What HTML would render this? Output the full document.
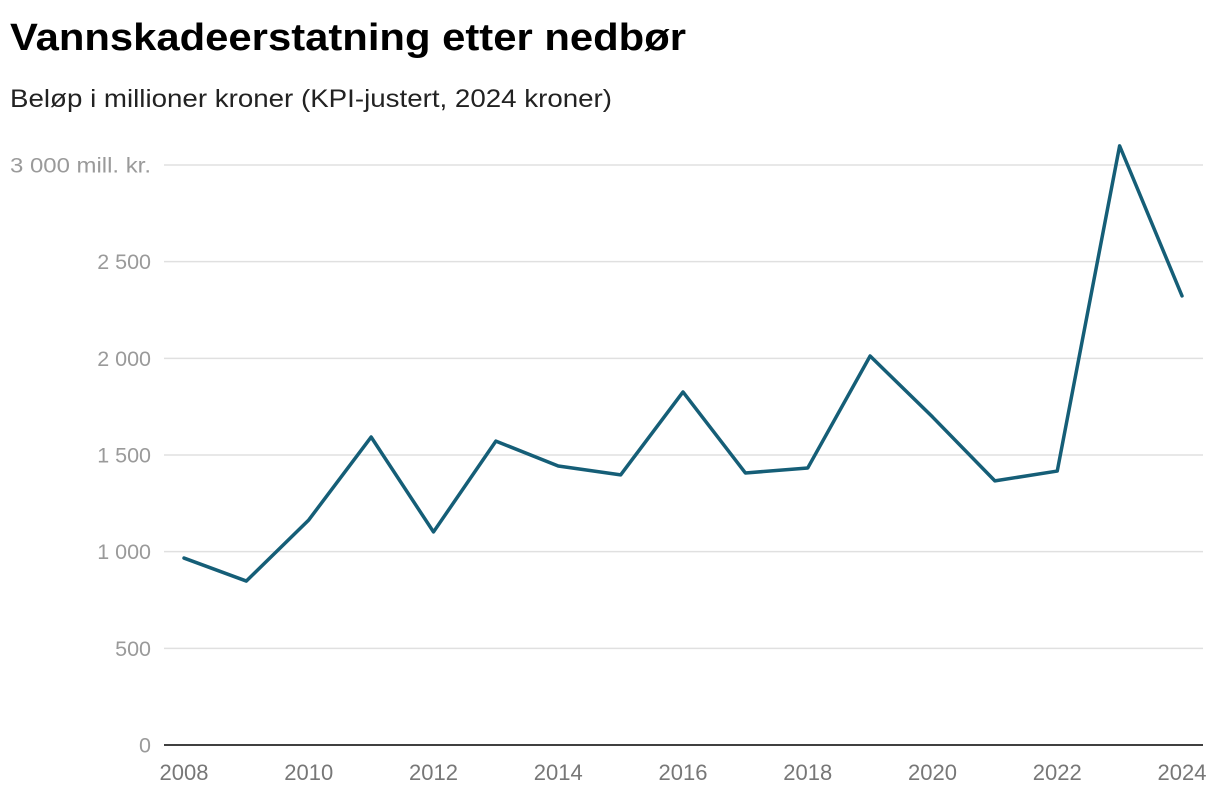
<!DOCTYPE html>
<html><head><meta charset="utf-8"><style>
body{margin:0;background:#fff;font-family:"Liberation Sans",sans-serif;}
svg text{font-family:"Liberation Sans",sans-serif;}
</style></head><body>
<svg id="chart" width="1220" height="796">
<text x="10" y="50" font-size="38" font-weight="bold" fill="#000" textLength="676" lengthAdjust="spacingAndGlyphs">Vannskadeerstatning etter nedbør</text>
<text x="10" y="107" font-size="25" fill="#222" textLength="602" lengthAdjust="spacingAndGlyphs">Beløp i millioner kroner (KPI-justert, 2024 kroner)</text>
<g id="grid"></g><g id="xaxis"></g><g id="series"></g>
</svg>
<script>
const years=[2008,2009,2010,2011,2012,2013,2014,2015,2016,2017,2018,2019,2020,2021,2022,2023,2024];
const values=[967,848,1164,1593,1102,1572,1443,1397,1826,1407,1433,2012,1697,1366,1417,3099,2323];
const yTicks=[0,500,1000,1500,2000,2500,3000];
const yTickLabels=["0","500","1 000","1 500","2 000","2 500","3 000 mill. kr."];
const xTicks=[2008,2010,2012,2014,2016,2018,2020,2022,2024];
const NS="http://www.w3.org/2000/svg";
const x=v=>184+(v-2008)*(1182-184)/16;
const y=v=>745-v*(580/3000);
const grid=document.getElementById('grid');
yTicks.forEach((t,i)=>{
  const l=document.createElementNS(NS,'line');
  l.setAttribute('x1',164);l.setAttribute('x2',1203);l.setAttribute('y1',y(t));l.setAttribute('y2',y(t));
  l.setAttribute('stroke',t===0?'#000':'#e0e0e0');l.setAttribute('stroke-width',1.5);
  
  
  grid.appendChild(l);
  const tx=document.createElementNS(NS,'text');
  tx.setAttribute('x',151);tx.setAttribute('y',y(t)+7.5);tx.setAttribute('text-anchor','end');
  tx.setAttribute('font-size','21.5');tx.setAttribute('fill','#9a9a9a');
  if(i===yTicks.length-1){tx.setAttribute('textLength','141');tx.setAttribute('lengthAdjust','spacingAndGlyphs');}
  tx.textContent=yTickLabels[i];
  
  
  grid.appendChild(tx);
});
const xa=document.getElementById('xaxis');
xTicks.forEach(t=>{
  const tx=document.createElementNS(NS,'text');
  tx.setAttribute('x',x(t));tx.setAttribute('y',780);tx.setAttribute('text-anchor','middle');
  tx.setAttribute('font-size','22');tx.setAttribute('fill','#777');
  tx.textContent=t;
  
  
  xa.appendChild(tx);
});
const p=document.createElementNS(NS,'polyline');
p.setAttribute('points',years.map((yr,i)=>x(yr)+','+y(values[i])).join(' '));
p.setAttribute('fill','none');p.setAttribute('stroke','#155e77');p.setAttribute('stroke-width','3.5');
p.setAttribute('stroke-linejoin','round');p.setAttribute('stroke-linecap','round');


document.getElementById('series').appendChild(p);
</script>
</body></html>
